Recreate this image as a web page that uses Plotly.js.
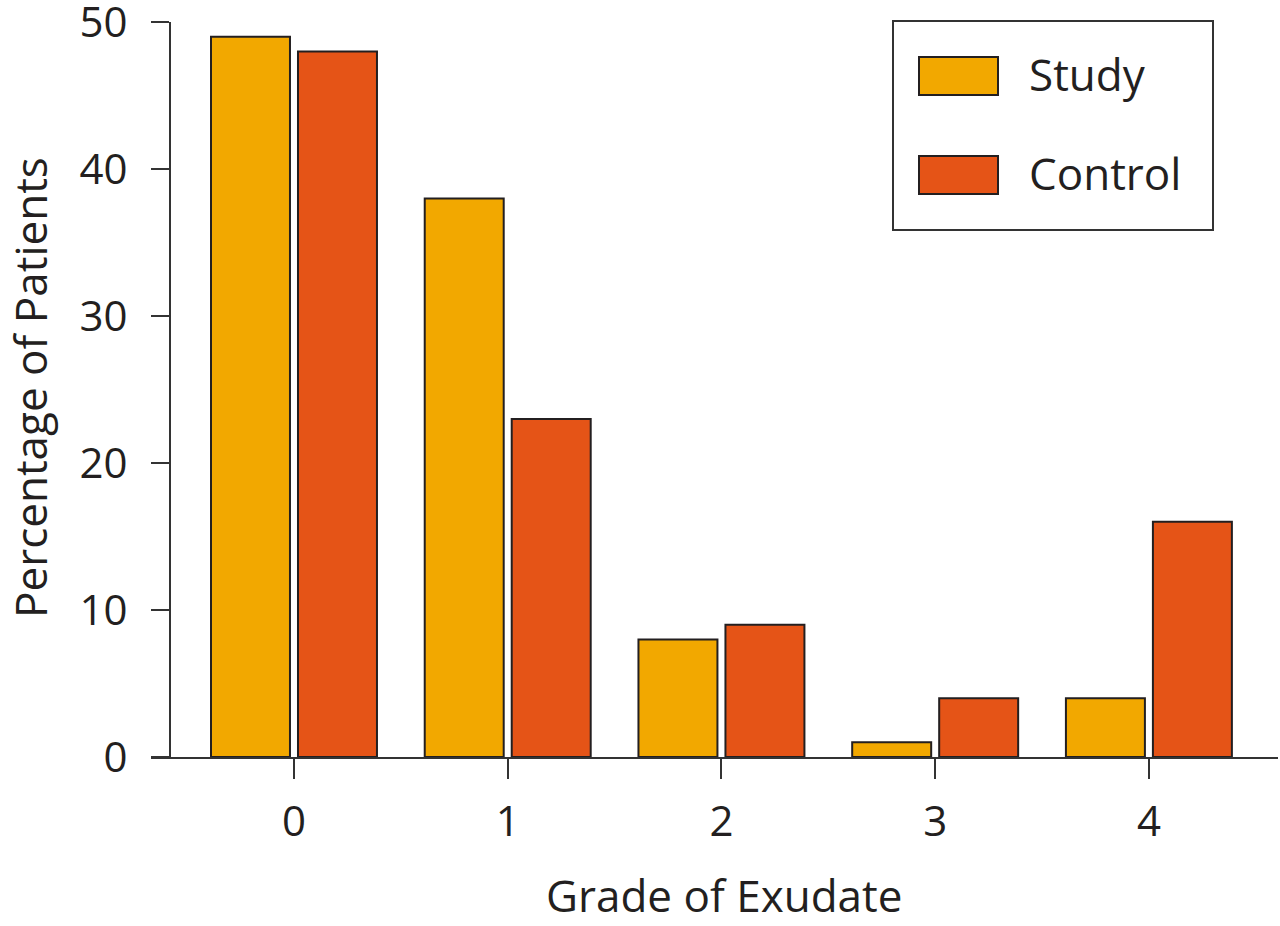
<!DOCTYPE html>
<html>
<head>
<meta charset="utf-8">
<script src="https://cdn.plot.ly/plotly-3.0.1.min.js"></script>
<style>html,body{margin:0;padding:0;background:#fff}#chart{width:1280px;height:926px}</style>
</head>
<body>
<div id="chart"></div>
<script>
const grades = ["0", "1", "2", "3", "4"];
const studyValues = [49, 38, 8, 1, 4];
const controlValues = [48, 23, 9, 4, 16];
const yTicks = [0, 10, 20, 30, 40, 50];
const seriesNames = ["Study", "Control"];
const xTitle = "Grade of Exudate";
const yTitle = "Percentage of Patients";

const STUDY_COLOR = "#F2A800";
const CONTROL_COLOR = "#E55417";
const EDGE = "#231F20";
const TEXT = "#231F20";
const FONT = "Open Sans, sans-serif";
const TICK_SIZE = 42;
const LABEL_SIZE = 44;

const W = 1280, H = 926;
const L = 151, R = 2, T = 22, B = 169;
const pw = W - L - R, ph = H - T - B;
const px = v => (v - L) / pw;
const py = v => (H - B - v) / ph;

const xNum = grades.map(g => Number(g));

const traces = [
  {type: "bar", name: seriesNames[0], x: xNum, y: studyValues,
   marker: {color: STUDY_COLOR, line: {color: EDGE, width: 2}}, showlegend: false},
  {type: "bar", name: seriesNames[1], x: xNum, y: controlValues,
   marker: {color: CONTROL_COLOR, line: {color: EDGE, width: 2}}, showlegend: false}
];

const shapes = [
  {type: "rect", xref: "paper", yref: "paper", x0: px(893), x1: px(1213), y0: py(230), y1: py(21),
   line: {color: "#333", width: 2}, fillcolor: "rgba(0,0,0,0)"},
  {type: "rect", xref: "paper", yref: "paper", x0: px(919), x1: px(998), y0: py(95), y1: py(57),
   line: {color: EDGE, width: 2}, fillcolor: STUDY_COLOR},
  {type: "rect", xref: "paper", yref: "paper", x0: px(919), x1: px(998), y0: py(194), y1: py(156),
   line: {color: EDGE, width: 2}, fillcolor: CONTROL_COLOR}
];

const annotations = [
  {xref: "paper", yref: "paper", x: px(1027), y: py(74), xanchor: "left", yanchor: "middle",
   text: seriesNames[0], showarrow: false, font: {family: FONT, size: LABEL_SIZE, color: TEXT}},
  {xref: "paper", yref: "paper", x: px(1027), y: py(173), xanchor: "left", yanchor: "middle",
   text: seriesNames[1], showarrow: false, font: {family: FONT, size: LABEL_SIZE, color: TEXT}},
  {xref: "paper", yref: "paper", x: px(724), y: py(895), xanchor: "center", yanchor: "middle",
   text: xTitle, showarrow: false, font: {family: FONT, size: LABEL_SIZE, color: TEXT}},
  {xref: "paper", yref: "paper", x: px(30), y: py(388), xanchor: "center", yanchor: "middle",
   text: yTitle, textangle: -90, showarrow: false, font: {family: FONT, size: LABEL_SIZE, color: TEXT}}
];

const layout = {
  width: W, height: H,
  margin: {l: L, r: R, t: T, b: B, pad: 0},
  paper_bgcolor: "#fff", plot_bgcolor: "#fff",
  font: {family: FONT, size: TICK_SIZE, color: TEXT},
  barmode: "group", bargap: 0.186, bargroupgap: 0.092,
  xaxis: {
    range: [-0.669, 4.604], tickmode: "array", tickvals: xNum, ticktext: grades,
    showgrid: false, zeroline: false, showline: true, linecolor: "#333", linewidth: 2,
    ticks: "outside", ticklen: 20, tickwidth: 2, tickcolor: "#333", ticklabelstandoff: 7,
    tickfont: {family: FONT, size: TICK_SIZE, color: TEXT}, fixedrange: true
  },
  yaxis: {
    range: [0, 50], tickmode: "array", tickvals: yTicks, ticktext: yTicks.map(String),
    anchor: "free", position: px(170),
    showgrid: false, zeroline: false, showline: true, linecolor: "#333", linewidth: 2,
    ticks: "outside", ticklen: 18, tickwidth: 2, tickcolor: "#333", ticklabelstandoff: 15,
    ticklabeloverflow: "allow",
    tickfont: {family: FONT, size: TICK_SIZE, color: TEXT}, fixedrange: true
  },
  shapes: shapes,
  annotations: annotations
};

Plotly.newPlot("chart", traces, layout, {displayModeBar: false, staticPlot: true});
</script>
</body>
</html>
